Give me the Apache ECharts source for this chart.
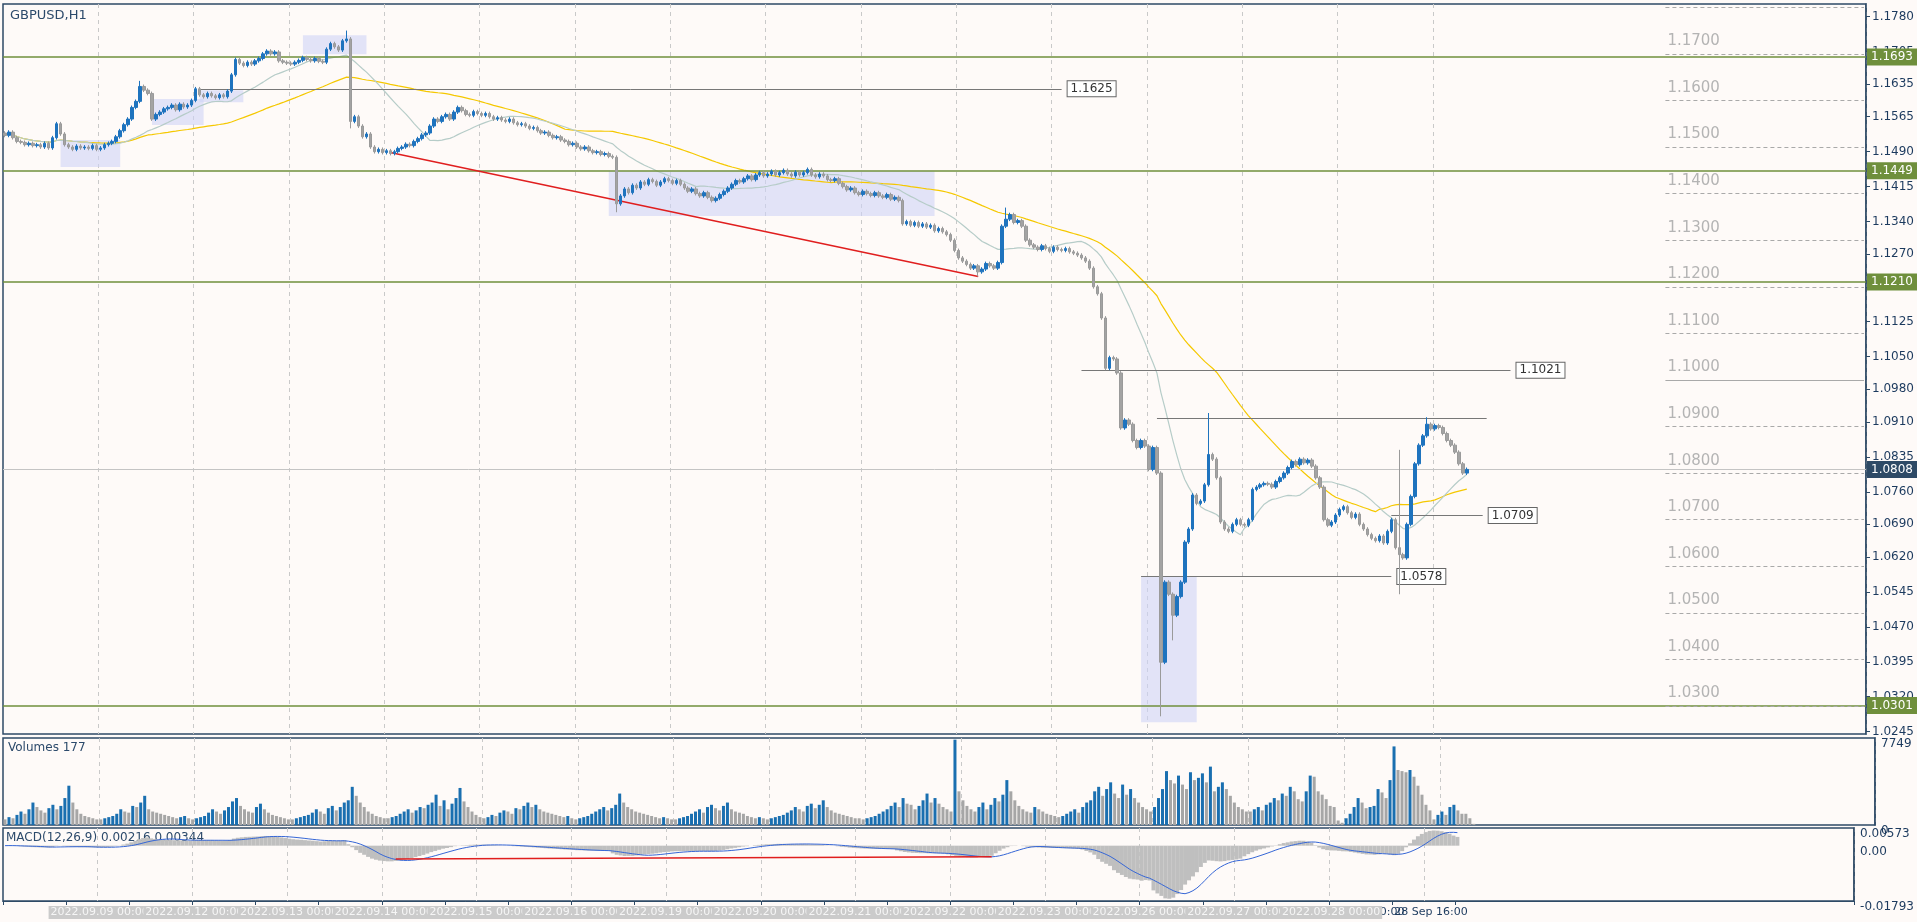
<!DOCTYPE html>
<html>
<head>
<meta charset="utf-8">
<script src="https://cdn.jsdelivr.net/npm/echarts@6/dist/echarts.min.js"></script>
<style>
  html, body { margin: 0; padding: 0; background: #fefaf8; }
  #chart { width: 1917px; height: 922px; }
</style>
</head>
<body>
<div id="chart"></div>
<script>
// hourly closes, in pips above 1.0000 (1525 -> 1.1525)
const closePips = [
  1525,1532,1520,1512,1510,1505,1508,1503,1505,1500,
  1508,1498,1520,1550,1528,1505,1500,1495,1502,1498,
  1500,1497,1503,1495,1498,1505,1508,1512,1522,1535,
  1548,1560,1585,1598,1630,1622,1615,1560,1570,1575,
  1582,1585,1590,1580,1592,1586,1590,1600,
  1625,1612,1608,1615,1610,1606,1612,1608,
  1620,1655,1688,1680,
  1675,1682,1678,1685,1690,1700,1706,1700,1704,1685,
  1682,1680,1678,1682,1686,1692,1688,1685,1690,1684,
  1682,1710,1722,1715,1708,1728,1732,1555,
  1565,1545,1522,1528,1500,1490,1495,1488,1492,1486,1490,1497,
  1500,1506,1503,1512,1518,1526,1530,1545,1560,1555,
  1565,1570,1560,1575,1585,1578,1570,1568,1576,1572,
  1568,1572,1565,1560,1563,1558,1555,1560,1552,1548,
  1550,1545,1540,1542,1535,1530,1532,1525,1520,1522,
  1515,1512,1505,1508,1500,1496,1500,1492,1488,1490,
  1484,1486,1480,1478,1378,1395,1410,1402,1418,1412,
  1425,1420,1430,1426,1418,1425,1432,1428,1422,1428,
  1420,1412,1405,1410,1400,1395,1402,1392,1385,1390,
  1398,1405,1412,1420,1428,1425,1432,1438,1430,1440,
  1445,1438,1442,1448,1440,1445,1450,1442,1438,1446,
  1440,1445,1452,1440,1436,1442,1438,1430,1428,1432,
  1422,1415,1408,1412,1402,1398,1405,1400,1396,1402,
  1395,1392,1398,1388,1392,1385,1335,1340,1332,1338,
  1330,1335,1328,1332,1320,1325,1318,1312,1300,1278,
  1262,1255,1248,1240,1245,1232,1238,1250,1245,1240,
  1252,1330,1345,1355,1338,1342,1330,1300,1290,1285,
  1280,1288,1282,1276,1285,1280,1278,1282,1275,1272,
  1268,1262,1255,1240,1200,1185,1133,1025,1048,1045,
  1015,897,914,905,870,855,870,858,808,855,
  800,394,566,540,495,535,566,652,680,753,
  735,740,775,840,830,790,695,680,675,690,
  700,690,688,700,765,770,775,778,776,770,
  782,790,800,812,825,818,830,822,828,815,
  790,770,700,688,695,710,722,728,715,705,
  712,690,680,668,660,655,665,650,675,700,
  640,625,618,690,750,820,860,880,905,895,
  902,898,885,870,860,845,820,800,808
];
// long wicks that stand out: [index, high, low] in pips
const wickPips = [
  [34,1642,null],[86,1750,null],[87,null,1540],[154,null,1360],[245,null,1222],
  [252,1370,null],[277,null,1021],[291,null,278],[294,null,441],[303,929,null],
  [351,850,540],[358,920,null]
];
// tick volume, in hundreds
const volumeHundreds = [
  5,7,6,9,12,10,14,20,16,13,11,15,18,14,17,24,35,20,14,10,8,7,6,5,
  5,6,7,8,10,14,12,11,17,16,20,26,14,12,11,10,9,8,7,6,7,8,6,5,
  6,7,8,11,14,12,10,13,16,21,24,17,14,12,11,16,19,14,11,9,8,7,6,5,
  5,6,7,8,9,11,14,12,10,15,17,13,16,20,22,34,26,20,16,12,10,8,7,6,
  6,7,8,10,12,14,11,13,16,15,18,20,27,17,22,14,19,24,33,21,16,12,9,7,
  6,7,9,8,11,13,12,10,15,14,17,20,16,18,14,12,11,10,9,8,7,8,6,5,
  6,7,8,10,12,14,16,13,15,18,28,20,16,14,12,11,10,9,8,7,6,7,6,5,
  5,6,7,8,10,12,14,11,16,18,15,13,17,20,14,12,11,10,8,7,6,7,6,5,
  6,7,8,9,11,13,16,14,12,17,19,15,18,22,16,13,11,10,9,8,7,6,6,5,
  6,7,8,10,12,14,17,20,16,24,19,18,14,17,22,28,20,24,19,16,14,12,76,30,
  22,17,14,12,16,20,14,18,24,21,27,40,30,22,17,14,12,11,16,14,12,10,9,8,
  7,8,10,12,14,11,16,20,22,30,34,26,32,38,28,24,36,27,32,24,20,16,14,12,
  16,24,32,48,40,37,44,36,32,47,40,42,46,38,52,30,34,38,32,26,20,16,14,12,
  12,14,16,13,18,20,24,22,28,26,34,30,23,21,30,44,43,30,27,23,17,16,4,2,
  6,10,16,24,20,15,16,17,32,29,24,40,70,49,48,47,49,43,35,27,18,13,5,9,
  12,9,16,18,13,10,10,6,1
];
const tradingDays = ['08','09','12','13','14','15','16','19','20','21','22','23','26','27','28','29'];
const priceTicks = [1.1780,1.1705,1.1635,1.1565,1.1490,1.1415,1.1340,1.1270,1.1200,1.1125,1.1050,
  1.0980,1.0910,1.0835,1.0760,1.0690,1.0620,1.0545,1.0470,1.0395,1.0320,1.0245];
const levelLines = [1.1693, 1.1449, 1.1210, 1.0301];
const faintLevels = [1.18,1.17,1.16,1.15,1.14,1.13,1.12,1.11,1.10,1.09,1.08,1.07,1.06,1.05,1.04,1.03];
// [fromIndex, toIndex, price, labelled]
const segmentLines = [[49,266,1.1625,true],[271,379,1.1021,true],[290,373,1.0918,false],[349,372,1.0709,true],[286,349,1.0578,true]];
// [fromIndex, toIndex, top, bottom]
const boxes = [[14,29,1.1515,1.1457],[37,50,1.1603,1.1547],[49,60,1.1622,1.1596],[75,91,1.1740,1.1699],
  [152,234,1.1448,1.1352],[286,300,1.0579,1.0265]];
const trendLine = [[97,1.1488],[245,1.1222]];
const macdTrend = [[99,-0.0043],[250,-0.0036]];
const lastPrice = 1.0808;

const SLOTS = 469;
const n = closePips.length;
const cats = [];
for (let i = 0; i < SLOTS; i++) cats.push(String(i));

const closes = closePips.map(p => 1 + p / 10000);
const ohlc = [];
for (let i = 0; i < n; i++) {
  const o = i === 0 ? closes[0] + 0.0005 : closes[i - 1];
  const c = closes[i];
  let hi = Math.max(o, c) + 0.0004, lo = Math.min(o, c) - 0.0004;
  wickPips.forEach(w => {
    if (w[0] === i) {
      if (w[1] != null) hi = 1 + w[1] / 10000;
      if (w[2] != null) lo = 1 + w[2] / 10000;
    }
  });
  ohlc.push([o, c, lo, hi]);
}

function sma(arr, p) {
  return arr.map((v, i) => {
    const from = Math.max(0, i - p + 1);
    let s = 0;
    for (let k = from; k <= i; k++) s += arr[k];
    return +(s / (i - from + 1)).toFixed(5);
  });
}
function ema(arr, p) {
  const a = 2 / (p + 1); const out = [];
  arr.forEach((v, i) => out.push(i === 0 ? v : out[i - 1] + a * (v - out[i - 1])));
  return out;
}
const maFast = sma(closes, 21);
const maSlow = sma(closes, 55);
const e12 = ema(closes, 12), e26 = ema(closes, 26);
const macdMain = closes.map((v, i) => e12[i] - e26[i]);
const macdSignal = macdMain.map((v, i) => {
  const from = Math.max(0, i - 8); let s = 0;
  for (let k = from; k <= i; k++) s += macdMain[k];
  return s / (i - from + 1);
});
const volumes = volumeHundreds.map(v => v * 100);
const volBars = volumes.map((v, i) => ({
  value: v,
  itemStyle: { color: i > 0 && v > volumes[i - 1] ? '#1a6fb0' : '#a6a6a6' }
}));

function timeLabel(i) {
  const d = tradingDays[Math.floor(i / 24)];
  const h = String(i % 24).padStart(2, '0');
  return { d, h };
}

const font = 'DejaVu Sans';
const axisColor = '#2e4a66';
const textColor = '#1c3a5e';
const daySplit = (i) => i > 0 && i % 24 === 0 && i < n;

const grids = [
  { left: 3, top: 4, width: 1872, height: 730 },
  { left: 3, top: 738, width: 1872, height: 87 },
  { left: 3, top: 828, width: 1872, height: 73 }
].map(g => Object.assign(g, { show: true, borderColor: axisColor, borderWidth: 1.5, backgroundColor: '#fefaf8' }));

function catAxis(gridIndex, extra) {
  return Object.assign({
    type: 'category', data: cats, gridIndex, boundaryGap: true, position: 'bottom',
    axisLine: { show: false }, axisTick: { show: false }, axisLabel: { show: false },
    splitLine: { show: true, interval: daySplit, lineStyle: { color: '#c9c9c9', type: [4, 4] } }
  }, extra || {});
}

const xAxes = [
  catAxis(0), catAxis(1), catAxis(2),
  catAxis(2, {
    splitLine: { show: false },
    axisLine: { show: true, lineStyle: { color: axisColor } },
    axisTick: { show: true, interval: (i) => i % 16 === 0 && i < n, length: 4, lineStyle: { color: axisColor } },
    axisLabel: {
      show: true, interval: (i) => i % 16 === 0 && i < n, align: 'left', margin: 6, hideOverlap: false,
      color: textColor, fontSize: 11, fontFamily: font,
      formatter: (v) => { const t = timeLabel(+v); return (+t.d) + ' Sep ' + t.h + ':00'; }
    }
  }),
  catAxis(2, {
    splitLine: { show: false },
    axisLabel: {
      show: true, interval: (i) => i % 24 === 0 && i < n, margin: 5, hideOverlap: false,
      color: '#f6f6f6', fontSize: 11, fontFamily: font,
      backgroundColor: '#cbcbcb', padding: [1, 2],
      formatter: (v) => '2022.09.' + timeLabel(+v).d + ' 00:00'
    }
  })
];

const yAxes = [
  {
    type: 'value', gridIndex: 0, position: 'right', min: 1.0240, max: 1.1807, scale: true,
    splitLine: { show: false },
    axisLine: { show: true, lineStyle: { color: axisColor, width: 1.5 } },
    axisTick: { show: true, customValues: priceTicks, length: 4, lineStyle: { color: axisColor } },
    axisLabel: { customValues: priceTicks, color: textColor, fontSize: 12, fontFamily: font, margin: 6,
      formatter: (v) => v.toFixed(4) }
  },
  {
    type: 'value', gridIndex: 1, position: 'right', min: 0, max: 7749,
    splitLine: { show: false },
    axisLine: { show: true, lineStyle: { color: axisColor, width: 1.5 } },
    axisTick: { show: false },
    axisLabel: { customValues: [0, 7749], color: textColor, fontSize: 12, fontFamily: font, margin: 6,
      formatter: (v) => String(Math.round(v)), verticalAlign: 'top' }
  },
  {
    type: 'value', gridIndex: 2, position: 'right', min: -0.01793, max: 0.00573,
    splitLine: { show: false },
    axisLine: { show: true, lineStyle: { color: axisColor, width: 1.5 } },
    axisTick: { show: false },
    axisLabel: { customValues: [-0.01793, 0, 0.00573], color: textColor, fontSize: 12, fontFamily: font, margin: 6,
      formatter: (v) => v === 0 ? '0.00' : v.toFixed(5), verticalAlign: 'top' }
  }
];

const endLabel = (text, bg, fg, border) => ({
  show: true, position: 'end', distance: 2, formatter: text,
  backgroundColor: bg, color: fg, borderColor: border || bg, borderWidth: 1,
  padding: [2, 3, 1, 3], fontSize: 12, fontFamily: font
});

const overlayMarkLines = [];
levelLines.forEach(v => overlayMarkLines.push({
  yAxis: v, lineStyle: { color: '#6f8f3c', width: 1.5, type: 'solid' }, label: endLabel(v.toFixed(4), '#6f8f3c', '#ffffff')
}));
overlayMarkLines.push({
  yAxis: lastPrice, lineStyle: { color: '#c4c4c4', width: 1, type: 'solid' }, label: endLabel(lastPrice.toFixed(4), '#2e4a66', '#ffffff')
});
faintLevels.forEach(v => overlayMarkLines.push([
  { coord: [418, v], lineStyle: { color: '#a9a9a9', width: 1, type: Math.abs(v - 1.10) < 1e-9 ? 'solid' : [4, 3] },
    label: { show: true, position: 'insideStartBottom', formatter: v.toFixed(4), color: '#b4b4b4',
      fontSize: 15, fontFamily: font, distance: [2, -20] } },
  { coord: [468, v] }
]));
segmentLines.forEach(s => overlayMarkLines.push([
  { coord: [s[0], s[2]], lineStyle: { color: '#777777', width: 1, type: 'solid' },
    label: s[3] ? Object.assign(endLabel(s[2].toFixed(4), '#ffffff', '#333333', '#666666'), { distance: 6 }) : { show: false } },
  { coord: [s[1], s[2]] }
]));
overlayMarkLines.push([
  { coord: trendLine[0], lineStyle: { color: '#e01e1e', width: 1.5, type: 'solid' }, label: { show: false } },
  { coord: trendLine[1] }
]);

const series = [
  {
    type: 'line', xAxisIndex: 0, yAxisIndex: 0, data: [], z: 1, silent: true,
    markArea: { silent: true, itemStyle: { color: 'rgba(206,211,246,0.6)' },
      data: boxes.map(b => [{ coord: [b[0], b[2]] }, { coord: [b[1], b[3]] }]) }
  },
  {
    type: 'line', xAxisIndex: 0, yAxisIndex: 0, data: [], z: 3, silent: true,
    markLine: { silent: true, symbol: ['none', 'none'], animation: false, precision: 4, data: overlayMarkLines }
  },
  {
    type: 'line', xAxisIndex: 0, yAxisIndex: 0, data: maSlow, z: 4, showSymbol: false,
    lineStyle: { color: '#f5c800', width: 1.2 }
  },
  {
    type: 'line', xAxisIndex: 0, yAxisIndex: 0, data: maFast, z: 4, showSymbol: false,
    lineStyle: { color: '#b6ccc8', width: 1.2 }
  },
  {
    type: 'candlestick', xAxisIndex: 0, yAxisIndex: 0, data: ohlc, z: 5, barWidth: 3,
    itemStyle: { color: '#1e73be', color0: '#a3a3a3', borderColor: '#1e73be', borderColor0: '#9a9a9a', borderWidth: 1 }
  },
  {
    type: 'bar', xAxisIndex: 1, yAxisIndex: 1, data: volBars, barWidth: 3
  },
  {
    type: 'bar', xAxisIndex: 2, yAxisIndex: 2, data: macdMain.map(v => +v.toFixed(5)), barWidth: 4,
    itemStyle: { color: '#bfbfbf' },
    markLine: { silent: true, symbol: ['none', 'none'], animation: false, data: [[
      { coord: macdTrend[0], lineStyle: { color: '#e01e1e', width: 1.5, type: 'solid' }, label: { show: false } },
      { coord: macdTrend[1] }
    ]] }
  },
  {
    type: 'line', xAxisIndex: 2, yAxisIndex: 2, data: macdSignal.map(v => +v.toFixed(5)), showSymbol: false,
    lineStyle: { color: '#3566d6', width: 1 }
  }
];

const chart = echarts.init(document.getElementById('chart'));
chart.setOption({
  backgroundColor: '#fefaf8',
  animation: false,
  grid: grids,
  xAxis: xAxes,
  yAxis: yAxes,
  graphic: [
    { type: 'text', left: 10, top: 9, style: { text: 'GBPUSD,H1', fill: '#2c4a6b', font: '13px ' + font } },
    { type: 'text', left: 8, top: 742, style: { text: 'Volumes 177', fill: '#2c4a6b', font: '12px ' + font } },
    { type: 'text', left: 6, top: 832, style: { text: 'MACD(12,26,9) 0.00216 0.00344', fill: '#2c4a6b', font: '12px ' + font } }
  ],
  series
});
</script>
</body>
</html>
